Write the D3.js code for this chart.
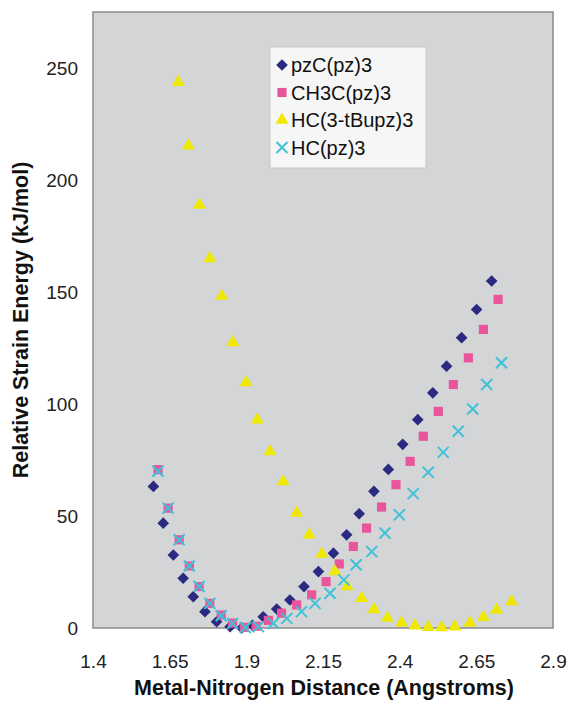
<!DOCTYPE html>
<html><head><meta charset="utf-8">
<script src="https://cdn.jsdelivr.net/npm/d3@7"></script>
<style>body{margin:0;background:#fff}svg{display:block}text{font-family:"Liberation Sans",Arial,sans-serif}</style>
</head><body><svg id="c" width="569" height="702"></svg>
<script>
const seriesNames = ["pzC(pz)3","CH3C(pz)3","HC(3-tBupz)3","HC(pz)3"];
const xTicks = [1.4,1.65,1.9,2.15,2.4,2.65,2.9];
const yTicks = [0,50,100,150,200,250];

const pzC_x = [1.597,1.629,1.662,1.694,1.727,1.765,1.803,1.847,1.885,1.920,1.955,1.999,2.042,2.088,2.135,2.184,2.227,2.268,2.316,2.363,2.410,2.459,2.508,2.553,2.602,2.651,2.700];
const pzC_y = [63.2,46.8,32.6,22.2,14.0,7.3,2.8,0.6,0.0,1.2,5.0,8.5,12.5,18.5,25.2,33.4,41.6,51.0,61.0,70.8,82.0,93.0,105.0,116.9,129.6,142.2,154.9];

const ch3_x = [1.612,1.645,1.681,1.714,1.746,1.781,1.818,1.855,1.893,1.932,1.972,2.015,2.064,2.113,2.160,2.203,2.249,2.292,2.341,2.388,2.434,2.477,2.526,2.575,2.624,2.673,2.721];
const ch3_y = [70.7,53.5,39.4,27.7,18.5,11.0,5.8,2.2,0.3,0.8,3.4,6.6,10.3,14.8,20.7,28.6,36.4,44.6,54.0,64.0,74.4,85.6,96.7,108.7,120.6,133.3,146.7];

const tBu_x = [1.678,1.711,1.747,1.781,1.820,1.856,1.899,1.936,1.977,2.020,2.064,2.105,2.146,2.189,2.229,2.276,2.316,2.360,2.406,2.450,2.493,2.537,2.580,2.629,2.673,2.716,2.765];
const tBu_y = [243.6,215.3,188.9,165.0,148.2,127.5,109.6,93.0,78.8,65.4,51.3,41.6,33.1,25.2,18.5,13.3,8.3,4.5,2.3,1.0,0.3,0.2,0.6,2.3,4.8,8.0,11.8];

const hc_x = [1.612,1.645,1.681,1.714,1.746,1.781,1.818,1.855,1.897,1.939,1.988,2.032,2.080,2.124,2.173,2.218,2.258,2.309,2.352,2.399,2.444,2.493,2.542,2.591,2.638,2.684,2.732];
const hc_y = [70.0,53.5,39.4,27.7,18.5,11.0,5.5,2.0,0.2,0.6,2.1,4.3,7.3,11.0,15.5,21.5,28.2,34.1,42.4,50.5,60.0,69.5,78.4,87.8,97.8,108.7,118.4];

const colors = ["#2b2a80","#e8559a","#efe800","#3fc2d9"];

const svg = d3.select("#c");
const x = d3.scaleLinear().domain([1.4,2.9]).range([93,553]);
const y = d3.scaleLinear().domain([0,275]).range([628,12]);

svg.append("rect").attr("x",93).attr("y",12).attr("width",460).attr("height",616)
  .attr("fill","#d3d5d7").attr("stroke","#8a8a8a").attr("stroke-width",1.5);

const xa = svg.append("g").attr("transform","translate(0,628)")
  .call(d3.axisBottom(x).tickValues(xTicks).tickSize(0).tickPadding(27).tickFormat(d3.format("")));
const ya = svg.append("g").attr("transform","translate(93,0)")
  .call(d3.axisLeft(y).tickValues(yTicks).tickSize(0).tickPadding(15));
[xa,ya].forEach(a=>{a.select(".domain").remove();a.selectAll("text").attr("font-size",19).attr("fill","#222").style("font-family","'Liberation Sans',Arial,sans-serif");});

const diamond = d3.symbol().type(d3.symbolSquare).size(68);
const square = d3.symbol().type(d3.symbolSquare).size(84);
const tri = d3.symbol().type(d3.symbolTriangle).size(74);
function drawX(g,cx,cy,c){
  const r=5.5;
  g.append("path").attr("d",`M${cx-r},${cy-r}L${cx+r},${cy+r}M${cx-r},${cy+r}L${cx+r},${cy-r}`)
   .attr("stroke",c).attr("stroke-width",2).attr("fill","none");
}

const plot = svg.append("g");
const zip = (a,b)=>a.map((v,i)=>[v,b[i]]);

plot.append("g").selectAll("path").data(zip(pzC_x,pzC_y)).join("path")
  .attr("d",diamond).attr("fill",colors[0])
  .attr("transform",d=>`translate(${x(d[0])},${y(d[1])}) rotate(45)`);
plot.append("g").selectAll("path").data(zip(ch3_x,ch3_y)).join("path")
  .attr("d",square).attr("fill",colors[1])
  .attr("transform",d=>`translate(${x(d[0])},${y(d[1])})`);
plot.append("g").selectAll("path").data(zip(tBu_x,tBu_y)).join("path")
  .attr("d",tri).attr("fill",colors[2])
  .attr("transform",d=>`translate(${x(d[0])},${y(d[1])})`);
const gx = plot.append("g");
zip(hc_x,hc_y).forEach(d=>drawX(gx,x(d[0]),y(d[1]),colors[3]));

// legend
const lg = svg.append("g");
lg.append("rect").attr("x",270).attr("y",47).attr("width",156).attr("height",121)
  .attr("fill","#f6f6f6").attr("stroke","#c8c8c8").attr("stroke-width",1);
const rowsY = [65,92.5,120,147.5];
seriesNames.forEach((n,i)=>{
  const cy = rowsY[i], cx = 282;
  if(i===0) lg.append("path").attr("d",diamond).attr("fill",colors[0]).attr("transform",`translate(${cx},${cy}) rotate(45)`);
  if(i===1) lg.append("path").attr("d",square).attr("fill",colors[1]).attr("transform",`translate(${cx},${cy})`);
  if(i===2) lg.append("path").attr("d",tri).attr("fill",colors[2]).attr("transform",`translate(${cx},${cy})`);
  if(i===3) drawX(lg,cx,cy,colors[3]);
  lg.append("text").attr("x",291).attr("y",cy+7).attr("font-size",20).attr("fill","#111").text(n);
});

svg.append("text").attr("x",324).attr("y",695).attr("text-anchor","middle")
  .attr("font-size",21.5).attr("font-weight","bold").attr("fill","#111")
  .text("Metal-Nitrogen Distance (Angstroms)");
svg.append("text").attr("transform","translate(28,320) rotate(-90)").attr("text-anchor","middle")
  .attr("font-size",21.5).attr("font-weight","bold").attr("fill","#111")
  .text("Relative Strain Energy (kJ/mol)");
</script></body></html>
